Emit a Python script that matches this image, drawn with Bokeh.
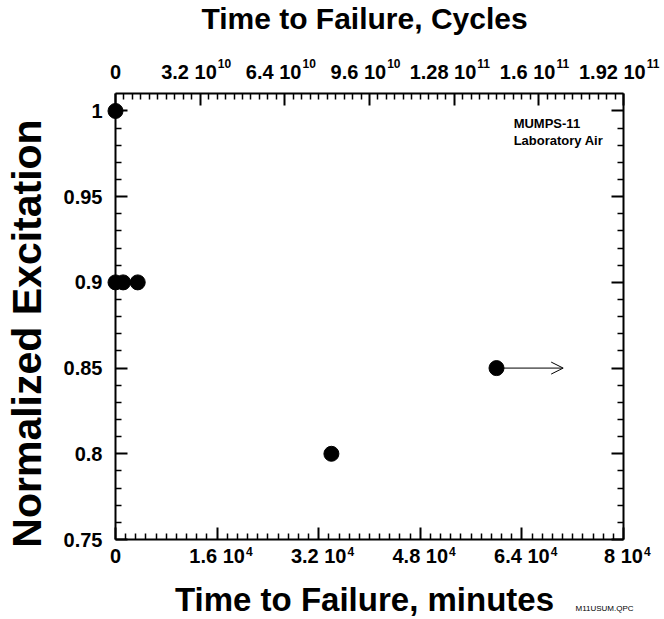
from math import pi
from bokeh.plotting import figure
from bokeh.models import Range1d, LinearAxis, FixedTicker, Arrow, OpenHead, ColumnDataSource
from bokeh.core.properties import value
from bokeh.embed import file_html
from bokeh.resources import INLINE

# ---- data ----
minutes = [0, 0, 1200, 3500, 34000, 60000]
excitation = [1.0, 0.9, 0.9, 0.9, 0.8, 0.85]
runout_minutes = [60000]
runout_arrow_end = [70500]
runout_excitation = [0.85]

x_ticks = [0, 16000, 32000, 48000, 64000, 80000]
x_label_base = ["0", "1.6 10", "3.2 10", "4.8 10", "6.4 10", "8 10"]
x_label_exp = ["", "4", "4", "4", "4", "4"]
cyc_ticks = [0, 32000000000, 64000000000, 96000000000, 128000000000, 160000000000, 192000000000]
cyc_label_base = ["0", "3.2 10", "6.4 10", "9.6 10", "1.28 10", "1.6 10", "1.92 10"]
cyc_label_exp = ["", "10", "10", "10", "11", "11", "11"]
y_ticks = [0.75, 0.8, 0.85, 0.9, 0.95, 1.0]
y_labels = ["0.75", "0.8", "0.85", "0.9", "0.95", "1"]
notes = ["MUMPS-11", "Laboratory Air"]
note_x = [62700, 62700]
note_y = [0.9927, 0.9828]

FONT = "Liberation Sans"
TICK_PX = 20
EXP_PX = 12

X0, X1 = 0, 80000
Y0, Y1 = 0.75, 1.0102
C0, C1 = 0, 192000000000

p = figure(width=664, height=619, output_backend="svg", toolbar_location=None,
           x_range=Range1d(X0, X1), y_range=Range1d(Y0, Y1),
           x_axis_location=None, y_axis_location=None,
           min_border_left=115, min_border_right=41, min_border_top=93, min_border_bottom=80)
p.extra_x_ranges = {"cycles": Range1d(C0, C1)}
p.outline_line_color = None
p.xgrid.visible = False
p.ygrid.visible = False


def minor(ticks, n):
    out = []
    for a, b in zip(ticks[:-1], ticks[1:]):
        step = (b - a) / n
        out += [a + step * k for k in range(1, n)]
    return out


def style(ax):
    ax.axis_line_width = 2
    ax.axis_line_color = "black"
    ax.major_tick_in = 12
    ax.major_tick_out = 0
    ax.minor_tick_in = 6
    ax.minor_tick_out = 0
    ax.major_tick_line_width = 2
    ax.minor_tick_line_width = 1.5
    ax.major_label_text_font = FONT
    ax.major_label_text_font_style = "bold"
    ax.major_label_text_font_size = f"{TICK_PX}px"
    ax.major_label_text_color = "black"


xt = FixedTicker(ticks=x_ticks, minor_ticks=minor(x_ticks, 10))
ct = FixedTicker(ticks=cyc_ticks, minor_ticks=minor(cyc_ticks, 10))
yt = FixedTicker(ticks=y_ticks, minor_ticks=minor(y_ticks, 5))

bottom = LinearAxis(ticker=xt, major_label_overrides=dict(zip(x_ticks, x_label_base)))
style(bottom)
bottom.major_label_standoff = 5
p.add_layout(bottom, "below")

top = LinearAxis(ticker=ct, x_range_name="cycles", major_label_overrides={t: "" for t in cyc_ticks})
style(top)
p.add_layout(top, "above")

left = LinearAxis(ticker=yt, major_label_overrides=dict(zip(y_ticks, y_labels)))
style(left)
left.major_label_standoff = 13
p.add_layout(left, "left")

right = LinearAxis(ticker=yt, major_label_overrides={t: "" for t in y_ticks})
style(right)
p.add_layout(right, "right")

# ---- exponents / top labels ----
WID = {".": 0.278, " ": 0.278}


def text_w(s, size):
    return sum(WID.get(c, 0.556) for c in s) * size


bold = dict(text_font=value(FONT), text_font_style="bold", text_color="black", level="overlay")

bsrc = ColumnDataSource(dict(x=x_ticks, y=[Y0] * len(x_ticks), e=x_label_exp,
                             eo=[text_w(b, TICK_PX) / 2 + 1 for b in x_label_base]))
p.text("x", "y", text="e", source=bsrc, text_align="left", text_baseline="middle",
       x_offset="eo", y_offset=12, text_font_size=f"{EXP_PX}px", **bold)

tot = [text_w(b, TICK_PX) + (1 + text_w(e, EXP_PX) if e else 0) for b, e in zip(cyc_label_base, cyc_label_exp)]
shift = [0 if not e else -4 for e in cyc_label_exp]
tsrc = ColumnDataSource(dict(x=cyc_ticks, y=[Y1] * len(cyc_ticks), t=cyc_label_base, e=cyc_label_exp,
                             bo=[-w / 2 + s for w, s in zip(tot, shift)],
                             eo=[-w / 2 + s + text_w(b, TICK_PX) + 1 for w, s, b in zip(tot, shift, cyc_label_base)]))
p.text("x", "y", text="t", source=tsrc, text_align="left", text_baseline="middle",
       x_offset="bo", y_offset=-22, text_font_size=f"{TICK_PX}px", x_range_name="cycles", **bold)
p.text("x", "y", text="e", source=tsrc, text_align="left", text_baseline="middle",
       x_offset="eo", y_offset=-30, text_font_size=f"{EXP_PX}px", x_range_name="cycles", **bold)

# ---- axis titles ----
XM = (X0 + X1) / 2
YM = (Y0 + Y1) / 2
p.text(x=[XM], y=[Y0], text=["Time to Failure, minutes"], text_align="center", text_baseline="middle",
       x_offset=-5, y_offset=60, text_font_size="33px", **bold)
p.text(x=[XM], y=[Y1], text=["Time to Failure, Cycles"], text_align="center", text_baseline="middle",
       x_offset=-5, y_offset=-75, text_font_size="30px", **bold)
p.text(x=[X0], y=[YM], text=["Normalized Excitation"], text_align="center", text_baseline="middle",
       angle=pi / 2, x_offset=-89, y_offset=17, text_font_size="41px", **bold)
p.text(x=[X1], y=[Y0], text=["M11USUM.QPC"], text_align="left", text_baseline="middle",
       x_offset=-48, y_offset=69, text_font_size="8px", text_font=value(FONT), text_color="black",
       level="overlay")

# ---- data marks ----
src = ColumnDataSource(dict(x=minutes, y=excitation))
p.scatter("x", "y", source=src, size=15, fill_color="black", line_color="black", level="overlay")

asrc = ColumnDataSource(dict(x0=runout_minutes, x1=runout_arrow_end, y=runout_excitation))
p.add_layout(Arrow(source=asrc, x_start="x0", y_start="y", x_end="x1", y_end="y",
                   line_width=1, line_color="black",
                   end=OpenHead(size=12, line_width=1, line_color="black")))

nsrc = ColumnDataSource(dict(x=note_x, y=note_y, t=notes))
p.text("x", "y", text="t", source=nsrc, text_align="left", text_baseline="middle",
       text_font_size="13px", **bold)

open("out.html", "w").write(file_html(p, INLINE))
